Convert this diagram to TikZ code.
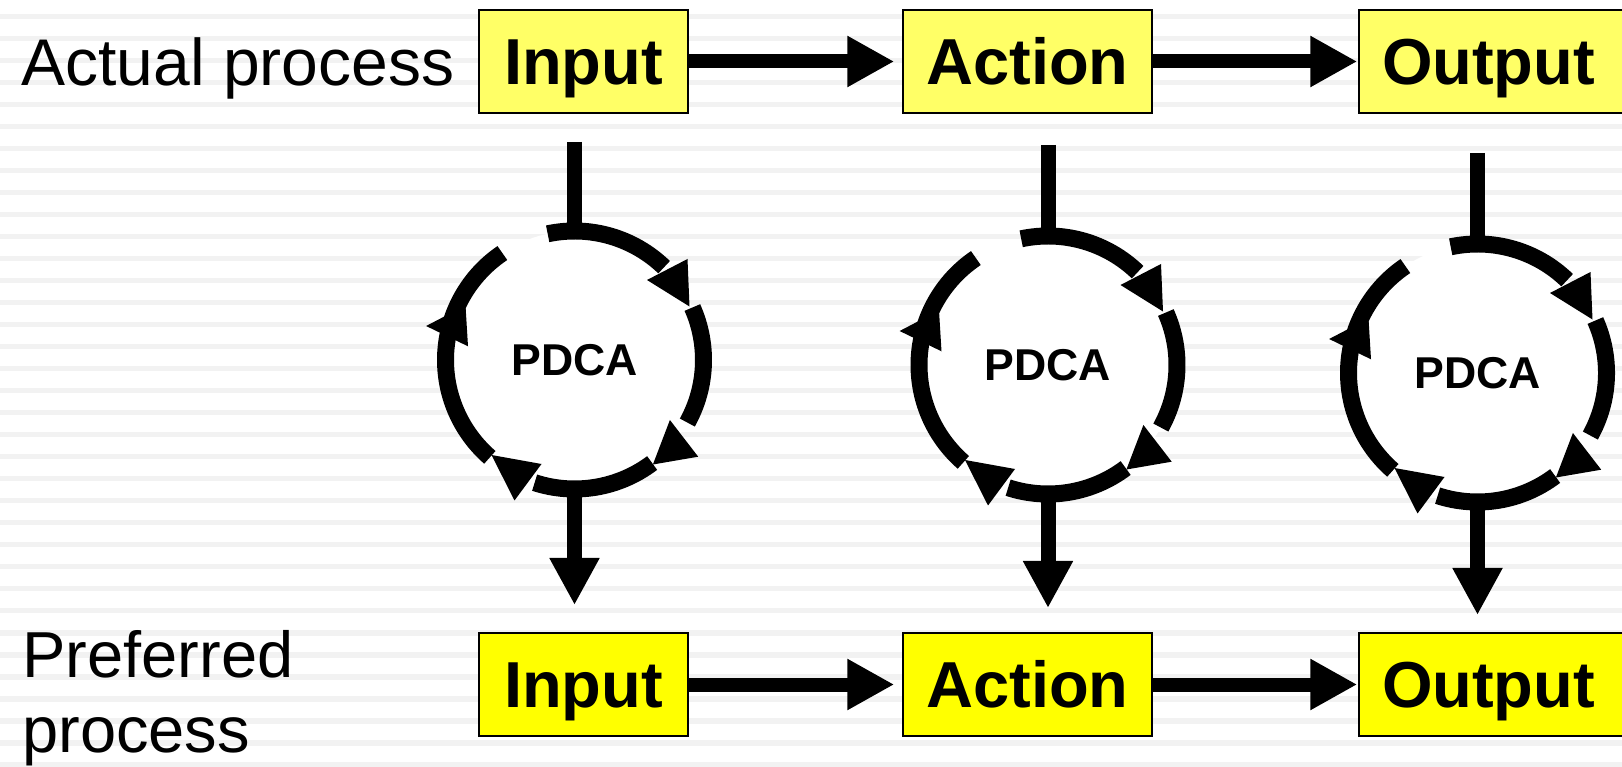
\documentclass[tikz,border=0pt]{standalone}
\usepackage{fontspec}
\setmainfont{Liberation Sans}
\usetikzlibrary{arrows.meta}
\definecolor{stripe}{RGB}{242,242,242}
\definecolor{topyellow}{RGB}{255,255,102}
\definecolor{botyellow}{RGB}{255,255,0}
\tikzset{
  procbox/.style={draw=black, line width=0.75pt, minimum height=51.5pt, inner sep=0pt,
    text height=23.3pt, text depth=0pt, font=\fontsize{32.5}{39}\selectfont\bfseries},
  actualbox/.style={procbox, fill=topyellow},
  preferredbox/.style={procbox, fill=botyellow},
  lastbox/.style={text width=115pt, inner xsep=11.5pt, align=left},
  flow/.style={line width=7pt, -{Triangle[length=23.5pt,width=24pt]}},
  drop/.style={line width=7.5pt, -{Triangle[length=23.5pt,width=23.5pt]}},
  feed/.style={line width=7.5pt},
  cyclearc/.style={line width=8.5pt},
  cyclebody/.style={circle, fill=white, minimum size=129pt, inner sep=0pt,
    font=\fontsize{22.3}{26}\selectfont\bfseries},
  caption/.style={anchor=base west, inner sep=0pt, font=\fontsize{33}{40}\selectfont},
}
\begin{document}
\begin{tikzpicture}[x=0.5pt,y=0.5pt]
\useasboundingbox (0,0) rectangle (1622,766);
% ruled background
\fill[white] (0,0) rectangle (1622,766);
\foreach \k in {0,...,34}
  \fill[stripe] (0,{766-14-22*\k}) rectangle (1622,{766-19.5-22*\k});

% row labels
\node[caption] (actual) at (21,680) {Actual process};
\node[caption, font=\fontsize{32.5}{40}\selectfont] (pref) at (22,89) {Preferred};
\node[caption, font=\fontsize{32.5}{40}\selectfont] (prefb) at (22,14) {process};

% actual process row
\node[actualbox, minimum width=104.5pt] (ain)  at (583.5,704.5) {Input};
\node[actualbox, minimum width=124.5pt] (aact) at (1027.5,704.5) {Action};
\node[actualbox, lastbox] (aout) at (1497,704.5) {Output};

% preferred process row
\node[preferredbox, minimum width=104.5pt] (pin)  at (583.5,81.5) {Input};
\node[preferredbox, minimum width=124.5pt] (pact) at (1027.5,81.5) {Action};
\node[preferredbox, lastbox] (pout) at (1497,81.5) {Output};

\draw[flow, shorten >=4pt]   (ain) -- (aact);
\draw[flow, shorten >=0.5pt] (aact) -- (aout);
\draw[flow, shorten >=4pt]   (pin) -- (pact);
\draw[flow, shorten >=0.5pt] (pact) -- (pout);

% PDCA cycles between the rows
\foreach \n/\cx/\cy/\sy/\ey in {1/574.5/406/624/161, 2/1048/401/621/158, 3/1477.5/393/613/151}{
  \node[cyclebody] (p\n) at (\cx,\cy) {PDCA};
  \begin{scope}[shift={(\cx,\cy)}]
    \draw[cyclearc] (102:129) arc[start angle=102, end angle=46, radius=129];
    \draw[cyclearc] (24:129) arc[start angle=24, end angle=-29, radius=129];
    \draw[cyclearc] (-53:129) arc[start angle=-53, end angle=-108, radius=129];
    \draw[cyclearc] (124:129) arc[start angle=124, end angle=229, radius=129];
    \fill (72.5,80) -- (113,101) -- (115,53.5) -- cycle;
    \fill (95.4,-60) -- (123.7,-96.7) -- (78.4,-104.5) -- cycle;
    \fill (-83,-95) -- (-33,-104) -- (-60,-140.5) -- cycle;
    \fill (-148.4,34) -- (-109,54.5) -- (-106.5,13.7) -- cycle;
  \end{scope}
  \coordinate (s\n) at (\cx,\sy);
  \coordinate (e\n) at (\cx,\ey);
  \draw[feed] (s\n) -- (p\n.north);
  \draw[drop] (p\n.south) -- (e\n);
}
\end{tikzpicture}
\end{document}
